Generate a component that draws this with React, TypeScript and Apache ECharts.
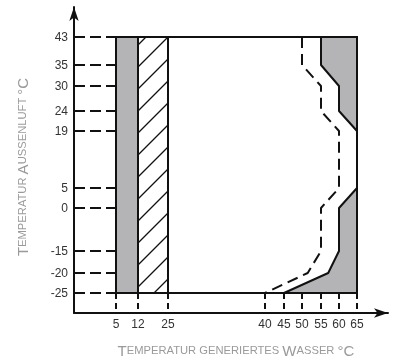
import React, { useEffect, useRef } from "react";
import * as echarts from "echarts";

// ---- data (°C) ----
const xTicks = [5, 12, 25, 40, 45, 50, 55, 60, 65];
const yTicks = [43, 35, 30, 24, 19, 5, 0, -15, -20, -25];
const greyBand = [5, 12];
const hatchBand = [12, 25];
const airRange = [-25, 43];
const waterMax = 65;
const solidLimit = [
  [55, 43], [55, 35], [60, 30], [60, 24], [65, 19],
  [65, 5], [60, 0], [60, -15], [57, -20], [45, -25],
];
const dashedLimit = [
  [50, 43], [50, 35], [55, 30], [55, 24], [60, 19],
  [60, 5], [55, 0], [55, -15], [51.5, -20], [40, -25],
];

// ---- non-linear axis layout (axis units for each tick) ----
const X_KNOTS = [42, 64, 94, 191, 210, 228, 247, 265, 283];
const Y_KNOTS = [276, 248, 227, 202, 182, 125, 105, 62, 40, 20];

function interp(t: number, keys: number[], vals: number[]) {
  const pairs = keys.map((k, i) => [k, vals[i]]).sort((a, b) => a[0] - b[0]);
  if (t <= pairs[0][0]) return pairs[0][1];
  for (let i = 1; i < pairs.length; i++) {
    if (t <= pairs[i][0]) {
      const [k0, v0] = pairs[i - 1];
      const [k1, v1] = pairs[i];
      return v0 + ((t - k0) / (k1 - k0)) * (v1 - v0);
    }
  }
  return pairs[pairs.length - 1][1];
}
const sx = (t: number) => interp(t, xTicks, X_KNOTS);
const sy = (t: number) => interp(t, yTicks, Y_KNOTS);

const INK = "#111111";
const GREY = "#b4b4b6";
const TITLE = "#9a9a9a";

export default function App() {
  const ref = useRef<HTMLDivElement>(null);
  useEffect(() => {
    const chart = echarts.init(ref.current!, undefined, { renderer: "svg" });

    const fills = [
      [[greyBand[0], airRange[0]], [greyBand[1], airRange[0]], [greyBand[1], airRange[1]], [greyBand[0], airRange[1]]],
      [...solidLimit.slice(0, 5), [waterMax, airRange[1]]],
      [...solidLimit.slice(5), [waterMax, airRange[0]]],
    ];
    const frame = [
      [[greyBand[0], airRange[1]], [waterMax, airRange[1]], [waterMax, airRange[0]], [greyBand[0], airRange[0]], [greyBand[0], airRange[1]]],
      [[hatchBand[0], airRange[1]], [hatchBand[0], airRange[0]]],
      [[hatchBand[1], airRange[1]], [hatchBand[1], airRange[0]]],
    ];
    const lbl = (ticks: number[], knots: number[]) => (v: number) => {
      const i = knots.findIndex((k) => Math.abs(k - v) < 0.01);
      return i >= 0 ? String(ticks[i]) : "";
    };
    const labelFont = { fontFamily: "Liberation Sans, Arial, sans-serif", fontSize: 12, color: "#333" };
    const FF = "Liberation Sans, Arial, sans-serif";
    const richTitle = {
      b: { fontSize: 15, fontFamily: FF, fill: TITLE },
      s: { fontSize: 11.2, fontFamily: FF, fill: TITLE },
    };

    chart.setOption({
      animation: false,
      grid: { left: 74, right: 5, top: 7, bottom: 50 },
      xAxis: {
        type: "value", min: 0, max: 314,
        splitLine: { show: false },
        axisTick: { show: false },
        axisLine: { lineStyle: { color: INK, width: 2 }, symbol: ["none", "arrow"], symbolSize: [7, 14] },
        axisLabel: { customValues: xTicks.map(sx), formatter: lbl(xTicks, X_KNOTS), margin: 5, ...labelFont },
      },
      yAxis: {
        type: "value", min: 0, max: 306,
        splitLine: { show: false },
        axisTick: { show: false },
        axisLine: { onZero: false, lineStyle: { color: INK, width: 2 }, symbol: ["none", "arrow"], symbolSize: [7, 14] },
        axisLabel: { customValues: yTicks.map(sy), formatter: lbl(yTicks, Y_KNOTS), margin: 6, ...labelFont },
      },
      graphic: [
        {
          type: "text", x: 22, y: 167, rotation: Math.PI / 2,
          style: { text: "{b|T}{s|EMPERATUR }{b|A}{s|USSENLUFT }{b|°C}", rich: richTitle, fill: TITLE, align: "center", verticalAlign: "middle" },
        },
        {
          type: "text", x: 236, y: 350,
          style: { text: "{b|T}{s|EMPERATUR GENERIERTES }{b|W}{s|ASSER }{b|°C}", rich: richTitle, fill: TITLE, align: "center", verticalAlign: "middle" },
        },
      ],
      series: [
        {
          type: "custom", z: 1, silent: true,
          data: fills.map((_, i) => [i, 0]),
          renderItem: (params: any, api: any) => ({
            type: "polygon",
            shape: { points: fills[params.dataIndex].map((p) => api.coord([sx(p[0]), sy(p[1])])) },
            style: { fill: GREY },
          }),
        },
        {
          type: "custom", z: 2, silent: true,
          data: [[0, 0]],
          renderItem: (params: any, api: any) => {
            const [xL, yB] = api.coord([sx(hatchBand[0]), sy(airRange[0])]);
            const [xR, yT] = api.coord([sx(hatchBand[1]), sy(airRange[1])]);
            const w = xR - xL;
            const step = 22;
            let c0 = yB - 6;
            while (c0 + step < yB + w) c0 += step;
            const children: any[] = [];
            for (let c = c0; c > yT; c -= step) {
              const lo = Math.max(xL, xL + c - yB);
              const hi = Math.min(xR, xL + c - yT);
              if (hi > lo) {
                children.push({
                  type: "line",
                  shape: { x1: lo, y1: c - (lo - xL), x2: hi, y2: c - (hi - xL) },
                  style: { stroke: INK, lineWidth: 1.2 },
                });
              }
            }
            return { type: "group", children };
          },
        },
        {
          type: "custom", z: 3, silent: true,
          data: yTicks.map((t) => [0, sy(t)]),
          renderItem: (params: any, api: any) => {
            const a = api.coord([0, api.value(1)]);
            const b = api.coord([sx(greyBand[0]), api.value(1)]);
            return { type: "line", shape: { x1: a[0], y1: a[1], x2: b[0], y2: b[1] }, style: { stroke: INK, lineWidth: 2, lineDash: [11, 5] } };
          },
        },
        {
          type: "custom", z: 3, silent: true,
          data: xTicks.map((t) => [sx(t), 0]),
          renderItem: (params: any, api: any) => {
            const a = api.coord([api.value(0), sy(airRange[0])]);
            const b = api.coord([api.value(0), 0]);
            return { type: "line", shape: { x1: a[0], y1: a[1], x2: b[0], y2: b[1] }, style: { stroke: INK, lineWidth: 2, lineDash: [6, 4] } };
          },
        },
        {
          type: "custom", z: 4, silent: true,
          data: frame.map((_, i) => [i, 0]),
          renderItem: (params: any, api: any) => ({
            type: "polyline",
            shape: { points: frame[params.dataIndex].map((p) => api.coord([sx(p[0]), sy(p[1])])) },
            style: { stroke: INK, lineWidth: 2, fill: "none" },
          }),
        },
        {
          type: "line", z: 5, silent: true, showSymbol: false,
          data: solidLimit.map(([x, y]) => [sx(x), sy(y)]),
          lineStyle: { color: INK, width: 2 },
        },
        {
          type: "line", z: 5, silent: true, showSymbol: false,
          data: dashedLimit.map(([x, y]) => [sx(x), sy(y)]),
          lineStyle: { color: INK, width: 2, type: [11, 6] },
        },
      ],
    });
    return () => chart.dispose();
  }, []);
  return <div ref={ref} style={{ position: "fixed", left: 0, top: 0, width: 393, height: 363 }} />;
}
